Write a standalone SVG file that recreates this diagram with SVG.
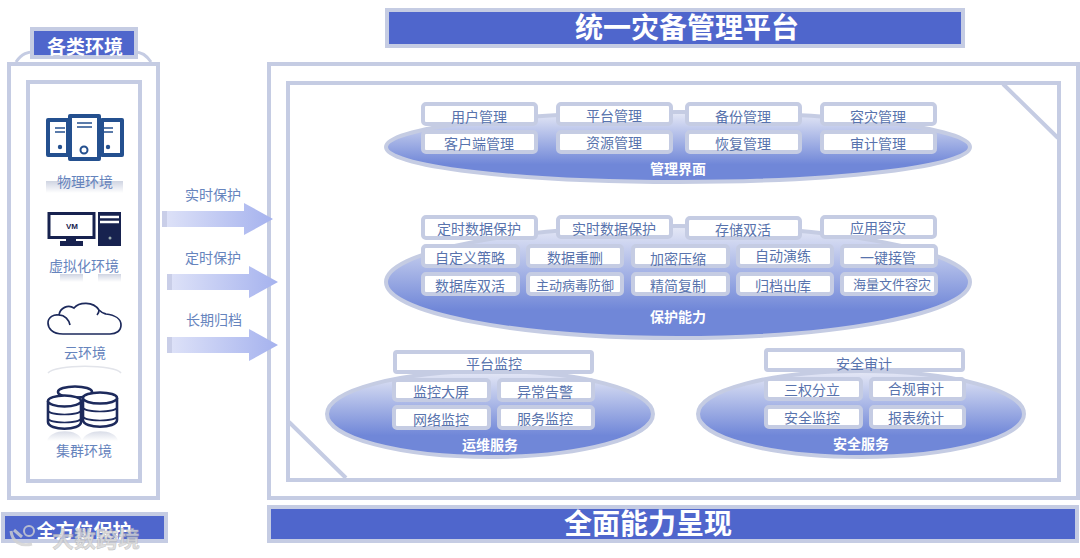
<svg xmlns="http://www.w3.org/2000/svg" width="1080" height="558" viewBox="0 0 1080 558">
<style>
text{font-family:"Noto Sans CJK SC","Noto Sans",sans-serif;text-anchor:middle}
.fr{fill:#fff;stroke:#c5cce3;stroke-width:4}
.bar{fill:#4f66cc;stroke:#c5cce3;stroke-width:4}
.box{fill:#fff;stroke:#c5cce3;stroke-width:4}
.t{font-size:14px;fill:#5873ad;font-weight:400}
.e{font-size:14px;fill:#6684bd;font-weight:400}
.h{fill:#fff;font-weight:700}
.el{font-size:14px;fill:#fff;font-weight:700}
.ell{stroke:#c5cce3;stroke-width:4}
.ic{fill:none;stroke:#1d2a5c;stroke-width:1.7}
.cy{fill:#fff;stroke:#1d2a5c;stroke-width:2.6}
.blue{fill:#fff;stroke:#24508f;stroke-width:4;stroke-linejoin:round}
</style>
<defs>
<linearGradient id="g" x1="0" y1="0" x2="0" y2="1"><stop offset="0" stop-color="#e6e9f6"/><stop offset=".75" stop-color="#7087d8"/><stop offset="1" stop-color="#7087d8"/></linearGradient>
<linearGradient id="a" x1="0" y1="0" x2="1" y2="0"><stop offset="0" stop-color="#dfe3f8"/><stop offset="1" stop-color="#a5b2ee"/></linearGradient>
<linearGradient id="r" x1="0" y1="0" x2="0" y2="1"><stop offset="0" stop-color="#cfd4e2"/><stop offset="1" stop-color="#fff"/></linearGradient>
<path id="arr" d="M0 8H82V0L111 16L82 32V24H0Z" fill="url(#a)"/>
</defs>
<rect width="1080" height="558" fill="#fff"/>

<g id="env-panel">
<path d="M16 62C22 53 28 52 34 52H134C142 52 146 55 151 62" fill="none" stroke="#c5cce3" stroke-width="3"/>
<rect class="fr" x="9" y="64" width="149" height="434"/>
<rect class="fr" x="28" y="82" width="112" height="399"/>
<rect class="bar" x="32" y="29" width="104" height="28"/>
<text class="h" x="85" y="54" font-size="19">各类环境</text>
</g>

<g id="env-physical">
<rect class="blue" x="48" y="120" width="20" height="35"/>
<rect class="blue" x="102" y="120" width="20" height="35"/>
<rect class="blue" x="70" y="116" width="29" height="43"/>
<path d="M55 128h10M55 132h10M77 123h15M77 127h15M103 128h10M103 132h10" stroke="#24508f" stroke-width="1.5"/>
<circle cx="60" cy="147" r="2.2" fill="#24508f"/><circle cx="108" cy="147" r="2.2" fill="#24508f"/><circle cx="84" cy="150" r="3.5" fill="#fff" stroke="#24508f" stroke-width="2"/>
<rect x="46" y="181" width="77" height="12" fill="url(#r)"/>
<text class="e" x="85" y="187">物理环境</text>
</g>
<g id="env-virtual">
<rect x="49" y="213.500" width="45" height="24" fill="#fff" stroke="#17224f" stroke-width="3"/>
<path d="M66 238h10v3h7v5h-23v-5h6z" fill="#17224f"/>
<rect x="98" y="212" width="23" height="34" fill="#17224f"/>
<path d="M100 217h19M100 222h19" stroke="#fff" stroke-width="2.500"/>
<circle cx="110" cy="238" r="1.500" fill="#9aa"/>
<text font-size="8" font-weight="700" fill="#17224f" x="72" y="229" style="font-family:'Liberation Sans',sans-serif">VM</text>
<rect x="60" y="274" width="23" height="8" fill="url(#r)"/><rect x="98" y="274" width="23" height="8" fill="url(#r)"/>
<text class="e" x="84" y="271">虚拟化环境</text>
</g>
<g id="env-cloud">
<path class="ic" d="M63 334C52 334 48 328 48 323C48 317 54 314 59 315C60 308 68 304 74 308C79 302 93 301 99 310C102 313 103 313 106 314C115 315 121 319 121 325C121 331 116 334 110 334Z"/>
<path class="ic" d="M59 315C65 315 69 320 70 325M99 310C99 312 98 314 97 315"/>
<text class="e" x="85" y="358">云环境</text>
<path d="M48 373C55 364 115 364 121 373" fill="none" stroke="#e2e4ea" stroke-width="1.500"/>
</g>
<g id="env-cluster">
<ellipse class="cy" cx="75" cy="392" rx="17" ry="5.500"/>
<path class="cy" d="M48 401V422C48 431 81 431 81 422V401"/><ellipse class="cy" cx="64.500" cy="401" rx="16.500" ry="5.500"/><path class="ic" stroke-width="2.600" d="M48 410C48 416 81 416 81 410M48 418C48 424 81 424 81 418"/>
<path class="cy" d="M83 398V420C83 429 117 429 117 420V398"/><ellipse class="cy" cx="100" cy="398" rx="17" ry="5.500"/><path class="ic" stroke-width="2.600" d="M83 407C83 413 117 413 117 407M83 416C83 422 117 422 117 416"/>
<path d="M47 441C50 428 80 428 82 441C85 428 116 428 118 441Z" fill="url(#r)" opacity=".8"/>
<text class="e" x="84" y="456">集群环境</text>
</g>

<g id="bar-all">
<rect class="bar" x="3" y="514" width="163" height="27"/>
<text class="h" x="84" y="538" font-size="19">全方位保护</text>
</g>

<g id="title-top"><rect class="bar" x="387" y="10" width="576" height="36"/><text class="h" x="687" y="38" font-size="28">统一灾备管理平台</text></g>
<g id="main-panel">
<rect class="fr" x="269" y="64" width="809" height="434"/>
<rect class="fr" x="288" y="83" width="771" height="397"/>
<path d="M1003 84L1058 138M289 422L346 478" stroke="#c5cce3" stroke-width="4" fill="none"/>
</g>
<g id="title-bottom"><rect class="bar" x="269" y="507" width="808" height="34"/><text class="h" x="648" y="534" font-size="28">全面能力呈现</text></g>

<g id="connectors">
<use href="#arr" x="162" y="203"/><path d="M162 211h5v16h-5z" fill="#c9cee8"/>
<use href="#arr" x="167" y="266"/><path d="M167 274h5v16h-5z" fill="#c9cee8"/>
<use href="#arr" x="167" y="329"/><path d="M167 337h5v16h-5z" fill="#c9cee8"/>
<text class="e" x="213" y="200">实时保护</text>
<text class="e" x="213" y="263">定时保护</text>
<text class="e" x="214" y="325">长期归档</text>
</g>

<g id="mgmt">
<ellipse class="ell" cx="678" cy="147" rx="292" ry="35" fill="url(#g)"/>
<text class="el" x="678" y="174">管理界面</text>
<rect class="box" x="423" y="104" width="113" height="20" rx="3"/><text class="t" x="479" y="122">用户管理</text>
<rect class="box" x="558" y="104" width="113" height="20" rx="3"/><text class="t" x="614" y="121">平台管理</text>
<rect class="box" x="687" y="104" width="113" height="20" rx="3"/><text class="t" x="743" y="122">备份管理</text>
<rect class="box" x="822" y="104" width="113" height="20" rx="3"/><text class="t" x="878" y="122">容灾管理</text>
<rect class="box" x="423" y="132" width="113" height="20" rx="3"/><text class="t" x="479" y="149">客户端管理</text>
<rect class="box" x="558" y="132" width="113" height="20" rx="3"/><text class="t" x="614" y="148">资源管理</text>
<rect class="box" x="687" y="132" width="113" height="20" rx="3"/><text class="t" x="743" y="149">恢复管理</text>
<rect class="box" x="822" y="132" width="113" height="20" rx="3"/><text class="t" x="878" y="149">审计管理</text>
</g>

<g id="protect">
<ellipse class="ell" cx="678" cy="282" rx="292" ry="56" fill="url(#g)"/>
<text class="el" x="678" y="322">保护能力</text>
<rect class="box" x="423" y="217" width="113" height="21" rx="3"/><text class="t" x="479" y="234">定时数据保护</text>
<rect class="box" x="558" y="217" width="113" height="20" rx="3"/><text class="t" x="614" y="234">实时数据保护</text>
<rect class="box" x="687" y="218" width="113" height="20" rx="3"/><text class="t" x="743" y="235">存储双活</text>
<rect class="box" x="822" y="217" width="113" height="20" rx="3"/><text class="t" x="878" y="233">应用容灾</text>
<rect class="box" x="423" y="246" width="95" height="20" rx="3"/><text class="t" x="470" y="263">自定义策略</text>
<rect class="box" x="528" y="246" width="94" height="20" rx="3"/><text class="t" x="575" y="263">数据重删</text>
<rect class="box" x="633" y="246" width="95" height="20" rx="3"/><text class="t" x="678" y="264">加密压缩</text>
<rect class="box" x="738" y="246" width="94" height="20" rx="3"/><text class="t" x="783" y="261">自动演练</text>
<rect class="box" x="842" y="246" width="94" height="20" rx="3"/><text class="t" x="888" y="263">一键接管</text>
<rect class="box" x="423" y="274" width="95" height="20" rx="3"/><text class="t" x="470" y="291">数据库双活</text>
<rect class="box" x="528" y="274" width="94" height="20" rx="3"/><text class="t" x="575" y="290" style="font-size:13px">主动病毒防御</text>
<rect class="box" x="633" y="274" width="95" height="20" rx="3"/><text class="t" x="678" y="291">精简复制</text>
<rect class="box" x="738" y="274" width="94" height="20" rx="3"/><text class="t" x="783" y="291">归档出库</text>
<rect class="box" x="842" y="274" width="94" height="20" rx="3"/><text class="t" x="892" y="289" style="font-size:13px">海量文件容灾</text>
</g>

<g id="ops">
<ellipse class="ell" cx="490" cy="414" rx="163" ry="43" fill="url(#g)"/>
<text class="el" x="490" y="450">运维服务</text>
<rect class="box" x="395" y="352" width="197" height="20" rx="2"/><text class="t" x="494" y="369">平台监控</text>
<rect class="box" x="394" y="380" width="95" height="20" rx="3"/><text class="t" x="441" y="397">监控大屏</text>
<rect class="box" x="499" y="380" width="94" height="20" rx="3"/><text class="t" x="545" y="397">异常告警</text>
<rect class="box" x="394" y="407" width="95" height="21" rx="3"/><text class="t" x="441" y="425">网络监控</text>
<rect class="box" x="499" y="407" width="94" height="21" rx="3"/><text class="t" x="545" y="424">服务监控</text>
</g>

<g id="sec">
<ellipse class="ell" cx="861" cy="414" rx="163" ry="43" fill="url(#g)"/>
<text class="el" x="861" y="449">安全服务</text>
<rect class="box" x="766" y="350" width="197" height="20" rx="2"/><text class="t" x="864" y="369">安全审计</text>
<rect class="box" x="766" y="379" width="95" height="20" rx="3"/><text class="t" x="812" y="395">三权分立</text>
<rect class="box" x="871" y="379" width="93" height="20" rx="3"/><text class="t" x="916" y="394">合规审计</text>
<rect class="box" x="766" y="407" width="95" height="20" rx="3"/><text class="t" x="812" y="423">安全监控</text>
<rect class="box" x="871" y="407" width="93" height="20" rx="3"/><text class="t" x="916" y="423">报表统计</text>
</g>

<g id="watermark" opacity=".8">
<text x="96" y="547" font-size="22" font-weight="700" fill="#d7d7d7" stroke="#aaa" stroke-width=".4">大数跨境</text>
<path d="M11 531C12 541 20 547 32 544M14 530L22 537" fill="none" stroke="#d2d2d2" stroke-width="3"/>
<circle cx="29" cy="531" r="5" fill="none" stroke="#d2d2d2" stroke-width="2"/>
</g>
</svg>
